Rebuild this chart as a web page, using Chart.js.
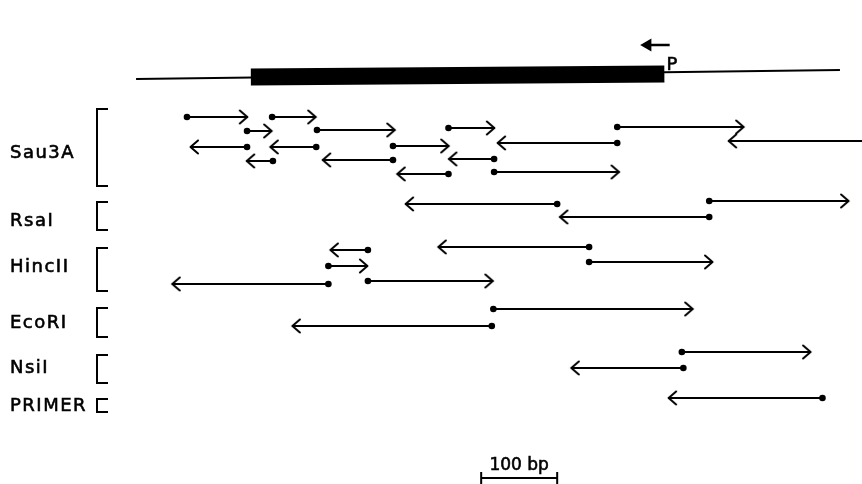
<!DOCTYPE html>
<html>
<head>
<meta charset="utf-8">
<script src="https://cdn.jsdelivr.net/npm/chart.js@4.4.1/dist/chart.umd.min.js"></script>
<style>
  html, body { margin: 0; padding: 0; background: #fff; }
  #wrap { width: 862px; height: 484px; }
</style>
</head>
<body>
<div id="wrap"><canvas id="map" width="862" height="484"></canvas></div>
<script>
// x = bp from left end of the cloned fragment, y = row (lane) from the top
const mapLine = [0, 926];
const mapLineLane = [79, 70];
const coding = [151, 695];
const codingLane = [77, 74];
const promoter = [702, 673]; // arrow P, points left
const promoterLane = 45;
const scaleBar = [454, 554];
const scaleLane = 478;

// sequenced reads: start = dot, end = arrow head
const sau3aStart = [67, 179, 146, 238, 411, 633, 146, 237, 338, 633, 960, 180, 338, 471, 411, 471];
const sau3aEnd   = [147, 237, 179, 341, 472, 800, 71, 176, 412, 475, 779, 145, 245, 411, 343, 636];
const sau3aLane  = [117, 117, 131, 130, 128, 127, 147, 147, 146, 143, 141, 161, 160, 159, 174, 172];

const rsaStart = [554, 754, 754];
const rsaEnd   = [354, 938, 557];
const rsaLane  = [204, 201, 217];

const hincStart = [305, 253, 253, 305, 596, 596];
const hincEnd   = [255, 305, 47, 470, 397, 759];
const hincLane  = [250, 266, 284, 281, 247, 262];

const ecoStart = [470, 468];
const ecoEnd   = [733, 205];
const ecoLane  = [309, 326];

const nsiStart = [718, 720];
const nsiEnd   = [888, 572];
const nsiLane  = [352, 368];

const primerStart = [903];
const primerEnd   = [700];
const primerLane  = [398];

const groupNames  = ["Sau3A", "RsaI", "HincII", "EcoRI", "NsiI", "PRIMER"];
const groupTop    = [109, 202, 248, 308, 355, 399];
const groupBottom = [186, 230, 291, 337, 383, 412];
const groupLabel  = [153, 221, 267, 323, 368, 406];

const ink = "#000";

// open arrow head used as point style, tip sits on the point
function makeChevron() {
  const c = document.createElement("canvas");
  c.width = 22;
  c.height = 18;
  const g = c.getContext("2d");
  g.strokeStyle = ink;
  g.lineWidth = 2;
  g.lineCap = "round";
  g.lineJoin = "round";
  g.beginPath();
  g.moveTo(3, 2.5);
  g.lineTo(10.5, 9);
  g.lineTo(3, 15.5);
  g.stroke();
  return c;
}
const chevron = makeChevron();

const datasets = [];

datasets.push({
  data: [{ x: mapLine[0], y: mapLineLane[0] }, { x: mapLine[1], y: mapLineLane[1] }],
  borderColor: ink, borderWidth: 2, pointRadius: 0
});
datasets.push({
  data: [{ x: coding[0], y: codingLane[0] }, { x: coding[1], y: codingLane[1] }],
  borderColor: ink, borderWidth: 17, borderCapStyle: "butt", pointRadius: 0
});
datasets.push({
  data: [{ x: promoter[0], y: promoterLane }, { x: promoter[1], y: promoterLane }],
  borderColor: ink, borderWidth: 2.5, borderCapStyle: "butt",
  pointRadius: [0, 5], pointStyle: "triangle", pointRotation: 270,
  pointBackgroundColor: ink, pointBorderColor: ink
});
datasets.push({
  data: [{ x: scaleBar[0], y: scaleLane }, { x: scaleBar[1], y: scaleLane }],
  borderColor: ink, borderWidth: 2, pointRadius: 6, pointStyle: "line",
  pointRotation: 90, pointBorderColor: ink, pointBorderWidth: 2
});

function addReads(starts, ends, lanes) {
  for (let i = 0; i < starts.length; i++) {
    const s = starts[i], e = ends[i];
    datasets.push({
      data: [{ x: s, y: lanes[i] }, { x: e, y: lanes[i] }],
      borderColor: ink,
      borderWidth: 2,
      pointStyle: ["circle", chevron],
      pointRotation: [0, e < s ? 180 : 0],
      pointRadius: [s > 955 ? 0 : 3.3, 6],
      pointBackgroundColor: ink,
      pointBorderColor: ink,
      pointBorderWidth: 0
    });
  }
}
addReads(sau3aStart, sau3aEnd, sau3aLane);
addReads(rsaStart, rsaEnd, rsaLane);
addReads(hincStart, hincEnd, hincLane);
addReads(ecoStart, ecoEnd, ecoLane);
addReads(nsiStart, nsiEnd, nsiLane);
addReads(primerStart, primerEnd, primerLane);

function inkText(ctx, text, x, y) {
  ctx.fillText(text, x, y);
  ctx.strokeText(text, x, y);
}

const labelsPlugin = {
  id: "labels",
  afterDatasetsDraw(chart) {
    const ctx = chart.ctx;
    const xs = chart.scales.x, ys = chart.scales.y;
    ctx.save();
    ctx.fillStyle = ink;
    ctx.strokeStyle = ink;
    ctx.font = '18px "DejaVu Sans"';
    ctx.letterSpacing = "1.5px";
    ctx.textBaseline = "middle";
    ctx.textAlign = "left";
    for (let i = 0; i < groupNames.length; i++) {
      ctx.lineWidth = 0.6;
      inkText(ctx, groupNames[i], 10, ys.getPixelForValue(groupLabel[i]));
      const t = ys.getPixelForValue(groupTop[i]);
      const b = ys.getPixelForValue(groupBottom[i]);
      ctx.lineWidth = 2;
      ctx.beginPath();
      ctx.moveTo(108, t);
      ctx.lineTo(97, t);
      ctx.lineTo(97, b);
      ctx.lineTo(108, b);
      ctx.stroke();
    }
    ctx.lineWidth = 0.6;
    ctx.textAlign = "center";
    inkText(ctx, "P", xs.getPixelForValue(706), ys.getPixelForValue(65));
    ctx.letterSpacing = "0px";
    ctx.font = '17px "DejaVu Sans"';
    inkText(ctx, "100 bp", xs.getPixelForValue((scaleBar[0] + scaleBar[1]) / 2), ys.getPixelForValue(466));
    ctx.restore();
  }
};

new Chart(document.getElementById("map"), {
  type: "line",
  data: { datasets },
  options: {
    responsive: false,
    animation: false,
    events: [],
    devicePixelRatio: 1,
    layout: { padding: 0, autoPadding: false },
    plugins: { legend: { display: false }, tooltip: { enabled: false } },
    scales: {
      x: { type: "linear", min: -179, max: 955, display: false },
      y: { type: "linear", min: 0, max: 484, reverse: true, display: false }
    }
  },
  plugins: [labelsPlugin]
});
</script>
</body>
</html>
